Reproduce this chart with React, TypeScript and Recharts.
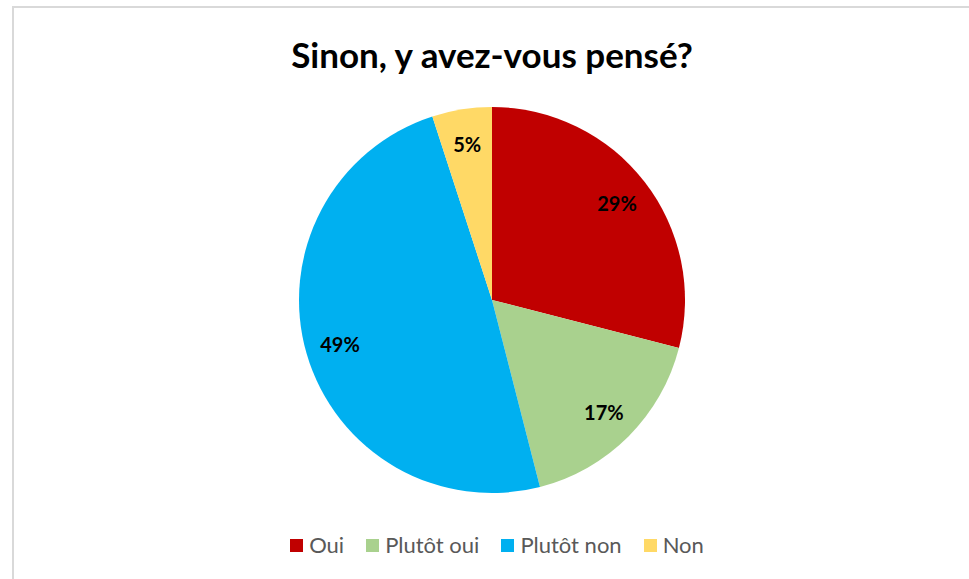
import { PieChart, Pie, Cell } from "recharts";

const categories = ["Oui", "Plutôt oui", "Plutôt non", "Non"];
const shares = [29, 17, 49, 5];
const colors = ["#C00000", "#A9D18E", "#00B0F0", "#FFD966"];

const data = categories.map((name, i) => ({ name, value: shares[i] }));

const RADIAN = Math.PI / 180;

function renderLabel(props: any) {
  const { cx, cy, midAngle, outerRadius, value } = props;
  const r = outerRadius * 0.82;
  const x = cx + r * Math.cos(-midAngle * RADIAN);
  const y = cy + r * Math.sin(-midAngle * RADIAN);
  return (
    <text
      x={x}
      y={y}
      textAnchor="middle"
      dominantBaseline="central"
      fill="#000"
      fontFamily="Lato"
      fontWeight={700}
      fontSize={20}
    >
      {value}%
    </text>
  );
}

export default function App() {
  return (
    <div
      style={{
        position: "absolute",
        top: 0,
        left: 0,
        width: 969,
        height: 579,
        overflow: "hidden",
        background: "#fff",
      }}
    >
      <div
        style={{
          position: "absolute",
          left: 12,
          top: 6,
          width: 980,
          height: 600,
          border: "2px solid #d9d9d9",
        }}
      />
      <div
        style={{
          position: "absolute",
          top: 31,
          left: 0,
          width: 984,
          textAlign: "center",
          fontFamily: "Lato",
          fontWeight: 700,
          fontSize: 35,
          lineHeight: "46px",
          color: "#000",
        }}
      >
        Sinon, y avez-vous pensé?
      </div>
      <div style={{ position: "absolute", top: 0, left: 0 }}>
        <PieChart
          width={969}
          height={579}
          margin={{ top: 0, right: 0, bottom: 0, left: 0 }}
        >
          <Pie
            data={data}
            dataKey="value"
            nameKey="name"
            cx={492}
            cy={300}
            outerRadius={193}
            startAngle={90}
            endAngle={-270}
            stroke="none"
            label={renderLabel}
            labelLine={false}
            isAnimationActive={false}
          >
            {data.map((d, i) => (
              <Cell key={d.name} fill={colors[i]} />
            ))}
          </Pie>
        </PieChart>
      </div>
      <div
        style={{
          position: "absolute",
          top: 532,
          left: 0,
          width: 994,
          display: "flex",
          justifyContent: "center",
          gap: 22,
          fontFamily: "Lato",
          fontSize: 22,
          lineHeight: "26px",
          color: "#595959",
        }}
      >
        {categories.map((c, i) => (
          <div key={c} style={{ display: "flex", alignItems: "center" }}>
            <span
              style={{
                display: "inline-block",
                width: 13,
                height: 13,
                background: colors[i],
                marginRight: 6,
              }}
            />
            {c}
          </div>
        ))}
      </div>
    </div>
  );
}
